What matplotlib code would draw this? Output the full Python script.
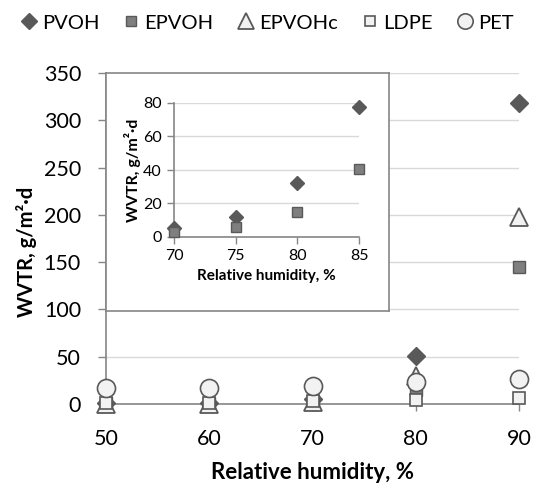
import matplotlib
matplotlib.use("Agg")
import matplotlib.pyplot as plt
from matplotlib.lines import Line2D

plt.rcParams['font.family'] = ['Lato', 'DejaVu Sans']

# ---- data ----
rh = [50, 60, 70, 80, 90]
pvoh = [1, 1, 5, 51, 318]
epvoh = [1, 1, 3, 15, 145]
epvohc = [0, 0, 2, 30, 198]
ldpe = [1, 1, 3, 4.5, 6]
pet = [17, 17, 19.5, 23, 26]

rh_in = [70, 75, 80, 85]
pvoh_in = [5.4, 12, 32, 77.6]
epvoh_in = [3, 6, 15, 40.6]

series_names = ["PVOH", "EPVOH", "EPVOHc", "LDPE", "PET"]

GRID = "#d9d9d9"
SPINE = "#868686"
DARK = "#595959"
MID = "#7f7f7f"
LIGHT = "#f2f2f2"

styles = {
    "PVOH": dict(marker="D", ms=9.5, mfc=DARK, mec=DARK, mew=1),
    "EPVOH": dict(marker="s", ms=9, mfc=MID, mec=DARK, mew=1),
    "EPVOHc": dict(marker="^", ms=13, mfc=LIGHT, mec=DARK, mew=1.3),
    "LDPE": dict(marker="s", ms=9, mfc=LIGHT, mec=DARK, mew=1.2),
    "PET": dict(marker="o", ms=13, mfc=LIGHT, mec=DARK, mew=1.2),
}
data = {"PVOH": pvoh, "EPVOH": epvoh, "EPVOHc": epvohc, "LDPE": ldpe, "PET": pet}

W, H = 534, 486
fig = plt.figure(figsize=(W / 100, H / 100), dpi=100)

def fx(px):
    return px / W

def fy(py):
    return 1 - py / H

# main axes
ax = fig.add_axes([fx(106), fy(404), fx(519) - fx(106), fy(73) - fy(404)])
for name in series_names:
    ax.plot(rh, data[name], linestyle="none", clip_on=False, zorder=3, **styles[name])
ax.set_xlim(50, 90)
ax.set_ylim(0, 350)
ax.set_xticks(rh)
ax.set_yticks(range(0, 351, 50))
ax.grid(axis="y", color=GRID, linewidth=1)
ax.set_axisbelow(True)
for s in ["top", "right"]:
    ax.spines[s].set_visible(False)
for s in ["left", "bottom"]:
    ax.spines[s].set_color(SPINE)
    ax.spines[s].set_linewidth(1.2)
ax.tick_params(axis="y", length=6, width=1, color=SPINE, labelsize=15.5, pad=12)
ax.tick_params(axis="x", length=5, width=1, color=SPINE, labelsize=15.5, pad=13)
ax.set_xlabel("Relative humidity, %", fontsize=16, fontweight="bold", labelpad=9)
ax.set_ylabel("WVTR, g/m²·d", fontsize=14.5, fontweight="bold")
ax.yaxis.set_label_coords(-0.167, 0.459)

# inset frame
frame = fig.add_axes([fx(106), fy(311), fx(389) - fx(106), fy(73) - fy(311)])
frame.set_xticks([])
frame.set_yticks([])
frame.set_facecolor("white")
for s in frame.spines.values():
    s.set_color(SPINE)
    s.set_linewidth(1.2)

# inset axes
ins = fig.add_axes([fx(174), fy(237), fx(359) - fx(174), fy(103) - fy(237)])
ins.plot(rh_in, pvoh_in, linestyle="none", marker="D", ms=6.7, mfc=DARK, mec=DARK, clip_on=False, zorder=3)
ins.plot(rh_in, epvoh_in, linestyle="none", marker="s", ms=6.5, mfc=MID, mec=DARK, mew=1, clip_on=False, zorder=3)
ins.set_xlim(70, 85)
ins.set_ylim(0, 80)
ins.set_xticks(rh_in)
ins.set_yticks(range(0, 81, 20))
ins.grid(axis="y", color=GRID, linewidth=1)
ins.set_axisbelow(True)
ins.patch.set_alpha(0)
for s in ["top", "right"]:
    ins.spines[s].set_visible(False)
for s in ["left", "bottom"]:
    ins.spines[s].set_color(SPINE)
    ins.spines[s].set_linewidth(1.2)
ins.tick_params(axis="both", length=5, width=1, color=SPINE, labelsize=11.5, pad=4)
ins.set_xlabel("Relative humidity, %", fontsize=11, fontweight="bold", labelpad=4)
ins.set_ylabel("WVTR, g/m²·d", fontsize=11.5, fontweight="bold", labelpad=1)

# legend
handles = [Line2D([], [], linestyle="none", **{**styles[n], "ms": styles[n]["ms"] * 0.85}) for n in series_names]
fig.legend(handles, series_names, loc="center", bbox_to_anchor=(0.5, fy(23)), ncol=5,
           frameon=False, fontsize=14.5, handlelength=0.8, handletextpad=0.25,
           columnspacing=1.2, borderpad=0)

fig.savefig("out.png", dpi=100)
